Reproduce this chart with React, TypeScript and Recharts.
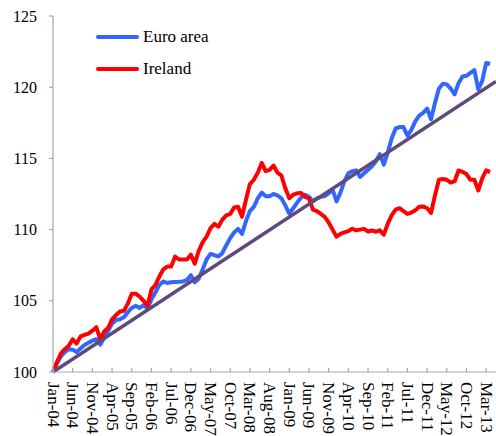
import { LineChart, Line, XAxis, YAxis, Legend } from "recharts";

// monthly index, Jan-04 = 100
const euroArea = [
  100, 100.6, 101.1, 101.4, 101.6, 101.57, 101.4, 101.65, 101.9, 102.05, 102.2, 102.3,
  101.92, 102.4, 102.9, 103.4, 103.65, 103.7, 103.85, 104.2, 104.5, 104.65, 104.5, 104.7,
  104.45, 105.1, 105.6, 106.1, 106.36, 106.25, 106.3, 106.32, 106.33, 106.36, 106.45, 106.8,
  106.3, 106.55, 107.2, 107.9, 108.3, 108.2, 108.12, 108.35, 108.9, 109.4, 109.8, 110.05,
  109.7, 110.6, 111.3, 111.6, 112.2, 112.6, 112.35, 112.35, 112.5, 112.4, 112.2, 111.7,
  111.12, 111.5, 111.9, 112.25, 112.45, 112.3, 112.0, 112.2, 112.3, 112.35, 112.55, 112.8,
  111.98, 112.6, 113.4, 113.95, 114.1, 114.16, 113.7, 113.95, 114.2, 114.45, 114.8, 115.3,
  114.56, 115.4, 116.4, 117.1, 117.2, 117.2, 116.6, 117.0, 117.6, 118.0, 118.2, 118.5,
  117.75, 118.9, 119.9, 120.25, 120.2, 119.9, 119.5, 120.3, 120.75, 120.8, 121.0, 121.2,
  119.85, 120.45, 121.7, 121.65,
];

const ireland = [
  100, 100.7, 101.3, 101.6, 101.85, 102.3, 102.0, 102.5, 102.6, 102.7, 102.9, 103.15,
  102.3, 102.85, 103.1, 103.7, 104.0, 104.25, 104.3, 104.8, 105.5, 105.5, 105.3, 105.0,
  104.65, 105.8, 106.1, 106.7, 107.2, 107.4, 107.4, 108.1, 107.9, 107.9, 107.9, 108.24,
  107.6, 108.5, 109.1, 109.5, 110.1, 110.4, 110.2, 110.7, 111.0, 111.1, 111.55, 111.6,
  110.9, 112.1, 113.2, 113.5, 114.0, 114.68, 114.1, 114.2, 114.5, 114.0, 113.8, 112.9,
  112.2, 112.45, 112.55, 112.57, 112.3, 112.2, 111.4, 111.3, 111.1, 110.9, 110.5, 110.0,
  109.5, 109.7, 109.8, 109.9, 110.06, 109.95, 110.0, 110.05, 109.87, 109.94, 109.85, 109.95,
  109.64, 110.4, 111.0, 111.4, 111.5, 111.3, 111.1, 111.2, 111.35, 111.6, 111.63, 111.5,
  111.17, 112.4, 113.5, 113.55, 113.5, 113.3, 113.4, 114.15, 114.05, 113.9, 113.5, 113.5,
  112.75, 113.6, 114.16, 114.04,
];

// straight 2% path, start and end
const trendMonths = [0, 112.5];
const trendValues = [100, 120.4];

const tickLabels = [
  "Jan-04", "Jun-04", "Nov-04", "Apr-05", "Sep-05", "Feb-06", "Jul-06", "Dec-06",
  "May-07", "Oct-07", "Mar-08", "Aug-08", "Jan-09", "Jun-09", "Nov-09", "Apr-10",
  "Sep-10", "Feb-11", "Jul-11", "Dec-11", "May-12", "Oct-12", "Mar-13",
];
const yTicks = [100, 105, 110, 115, 120, 125];

const FONT = "Liberation Serif, Tinos, Times New Roman, DejaVu Serif, serif";
const AXIS = "#a6a6a6";

const rows = euroArea.map((v, i) => ({ m: i, euro: v, ireland: ireland[i] }));
const trendRows = trendMonths.map((m, i) => ({ m, trend: trendValues[i] }));

function MonthTick({ x, y, payload }: any) {
  const label = tickLabels[Math.round(payload.value / 5)];
  return (
    <g>
      <line x1={x} x2={x} y1={y} y2={y - 4} stroke={AXIS} strokeWidth={1.2} />
      <text
        x={0}
        y={0}
        transform={`translate(${x},${y + 10}) rotate(90)`}
        textAnchor="start"
        dominantBaseline="central"
        fontSize={17}
        style={{ fontFamily: FONT }}
        fill="#000"
      >
        {label}
      </text>
    </g>
  );
}

function LegendBox({ payload }: any) {
  const items = (payload || []).filter((p: any) => p.value !== "trend");
  return (
    <div style={{ fontFamily: FONT, fontSize: 17, color: "#000" }}>
      {items.map((p: any) => (
        <div key={p.value} style={{ display: "flex", alignItems: "center", height: 32 }}>
          <span style={{ width: 43, height: 4, background: p.color, borderRadius: 2 }} />
          <span style={{ marginLeft: 4 }}>{p.value}</span>
        </div>
      ))}
    </div>
  );
}

export default function App() {
  return (
    <div style={{ position: "absolute", left: 0, top: 0, fontFamily: FONT }}>
      <LineChart width={496} height={436} data={rows} margin={{ top: 16, right: 0, bottom: 0, left: 0 }}>
        <XAxis
          dataKey="m"
          type="number"
          domain={[0, 112.5]}
          ticks={tickLabels.map((_, k) => k * 5)}
          interval={0}
          height={64}
          tickSize={0}
          tickMargin={0}
          tickLine={false}
          axisLine={{ stroke: AXIS, strokeWidth: 1.2 }}
          tick={<MonthTick />}
        />
        <YAxis
          domain={[100, 125]}
          ticks={yTicks}
          width={53}
          tickSize={4}
          tickMargin={12}
          axisLine={{ stroke: AXIS, strokeWidth: 1.2 }}
          tickLine={{ stroke: AXIS, strokeWidth: 1.2 }}
          tick={{ fill: "#000", fontSize: 16, style: { fontFamily: FONT } }}
        />
        <Legend
          layout="vertical"
          align="center"
          verticalAlign="middle"
          wrapperStyle={{ left: 96, top: 21, width: "auto" }}
          content={<LegendBox />}
        />
        <Line
          dataKey="euro"
          name="Euro area"
          stroke="#3366ff"
          strokeWidth={4}
          dot={false}
          strokeLinejoin="round"
          isAnimationActive={false}
        />
        <Line
          dataKey="ireland"
          name="Ireland"
          stroke="#ff0000"
          strokeWidth={4}
          dot={false}
          strokeLinejoin="round"
          isAnimationActive={false}
        />
        <Line
          data={trendRows}
          dataKey="trend"
          name="trend"
          legendType="none"
          stroke="#604a7b"
          strokeWidth={3.5}
          dot={false}
          isAnimationActive={false}
        />
      </LineChart>
    </div>
  );
}
